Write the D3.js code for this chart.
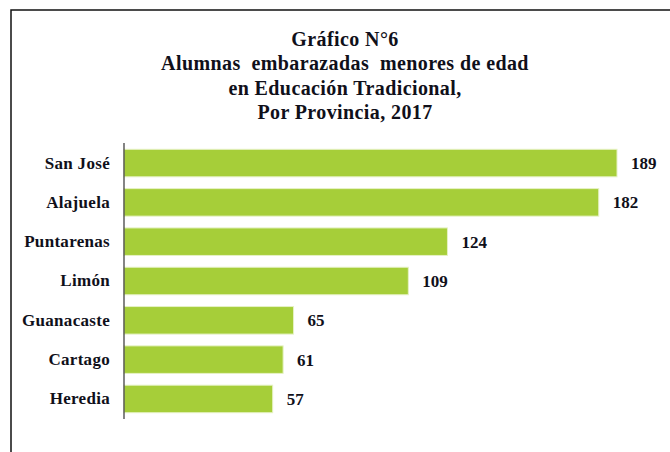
<!DOCTYPE html>
<html>
<head>
<meta charset="utf-8">
<script src="https://cdn.jsdelivr.net/npm/d3@7"></script>
<style>
  body { margin: 0; background: #fff; }
  svg { display: block; }
  text { font-family: "Liberation Serif", "Tinos", "Times New Roman", "DejaVu Serif", serif; }
</style>
</head>
<body>
<svg width="670" height="452"></svg>
<script>
// datos del gráfico
const provincias = ["San José", "Alajuela", "Puntarenas", "Limón", "Guanacaste", "Cartago", "Heredia"];
const alumnas = [189, 182, 124, 109, 65, 61, 57];
const titulo = [
    "Gráfico N°6",
    "Alumnas  embarazadas  menores de edad",
    "en Educación Tradicional,",
    "Por Provincia, 2017"
];

const svg = d3.select("svg");
const colorTexto = "#10101a";

// marco (solo se ve arriba y a la izquierda)
svg.append("path")
    .attr("d", "M11,452 L11,10 L670,10")
    .style("fill", "none")
    .style("stroke", "#111")
    .style("stroke-width", 1.5);

// titulo
svg.append("g")
    .selectAll("text")
    .data(titulo)
    .enter()
    .append("text")
    .attr("x", 345)
    .attr("y", function (d, i) { return 46 + i * 24.3; })
    .text(function (d) { return d; })
    .style("font-weight", "bold")
    .style("font-size", "20px")
    .style("letter-spacing", "0.4px")
    .style("white-space", "pre")
    .style("text-anchor", "middle")
    .style("fill", colorTexto);

const x = d3.scaleLinear()
    .domain([0, d3.max(alumnas)])
    .range([124, 617]);

const y = d3.scaleBand()
    .domain(provincias)
    .range([143, 419])
    .paddingInner(0.3)
    .paddingOuter(0.16);

const datos = provincias.map(function (p, i) { return { provincia: p, valor: alumnas[i] }; });

svg.selectAll(".barra")
    .data(datos)
    .enter()
    .append("rect")
    .attr("class", "barra")
    .attr("x", x(0))
    .attr("y", function (d) { return y(d.provincia); })
    .attr("width", function (d) { return x(d.valor) - x(0); })
    .attr("height", y.bandwidth())
    .style("fill", "#a6ce39")
    .style("stroke", "#e6f2c4")
    .style("stroke-width", 1);

// eje vertical
const eje = svg.append("g")
    .attr("transform", "translate(" + x(0) + ",0)")
    .call(d3.axisLeft(y).tickSize(0).tickPadding(14));

eje.attr("font-family", null);

eje.select(".domain")
    .attr("d", "M0,143V419")
    .style("stroke", "#333")
    .style("stroke-width", 1.2);

eje.selectAll("text")
    .style("font-weight", "bold")
    .style("font-size", "17px")
    .style("letter-spacing", "0.3px")
    .style("fill", colorTexto);

// etiquetas de valores
svg.selectAll(".valor")
    .data(datos)
    .enter()
    .append("text")
    .attr("class", "valor")
    .attr("x", function (d) { return x(d.valor) + 14; })
    .attr("y", function (d) { return y(d.provincia) + y.bandwidth() / 2; })
    .attr("dy", "0.35em")
    .text(function (d) { return d.valor; })
    .style("font-weight", "bold")
    .style("font-size", "17px")
    .style("fill", colorTexto);
</script>
</body>
</html>
